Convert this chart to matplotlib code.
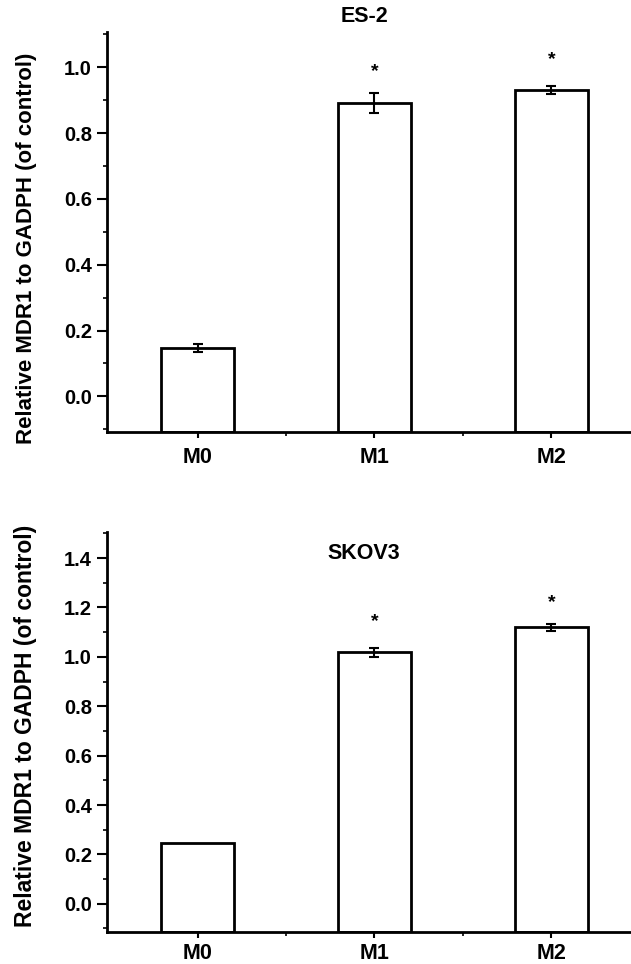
import matplotlib.pyplot as plt
from matplotlib.ticker import MultipleLocator, FixedLocator

plt.rcParams['font.family'] = ['Liberation Sans', 'DejaVu Sans']
plt.rcParams['font.weight'] = 'bold'

groups = ['M0', 'M1', 'M2']
es2_values = [0.147, 0.892, 0.930]
es2_errors = [0.012, 0.030, 0.012]
es2_stars = [None, 0.988, 1.023]
skov3_values = [0.246, 1.018, 1.119]
skov3_errors = [0.0, 0.018, 0.014]
skov3_stars = [None, 1.143, 1.218]
ylabel = 'Relative MDR1 to GADPH (of control)'


def panel(ax, values, errors, stars, ylim, label_y, label_size, xpad):
    x = list(range(len(groups)))
    base = ylim[0]
    ax.bar(x, [v - base for v in values], bottom=base, width=0.41, color='white',
           edgecolor='black', linewidth=2, zorder=2)
    errx = [i for i, e in zip(x, errors) if e > 0]
    erry = [v for v, e in zip(values, errors) if e > 0]
    erre = [e for e in errors if e > 0]
    ax.errorbar(errx, erry, yerr=erre, fmt='none', ecolor='black', elinewidth=1.5,
                capsize=3.5, capthick=1.5, zorder=3)
    for i, s in zip(x, stars):
        if s is not None:
            ax.text(i, s, '*', ha='center', va='center', fontsize=14)
    ax.set_xlim(-0.51, 2.45)
    ax.set_ylim(*ylim)
    ax.set_xticks(x)
    ax.set_xticklabels(groups, fontsize=15.5, fontweight='bold')
    ax.xaxis.set_minor_locator(FixedLocator([0.5, 1.5]))
    ax.yaxis.set_major_locator(MultipleLocator(0.2))
    ax.yaxis.set_minor_locator(MultipleLocator(0.1))
    ax.yaxis.set_major_formatter(plt.FormatStrFormatter('%.1f'))
    for lab in ax.get_yticklabels():
        lab.set_fontsize(14.5)
        lab.set_fontweight('bold')
    ax.tick_params(axis='y', which='major', direction='out', length=7, width=1.5, pad=4)
    ax.tick_params(axis='y', which='minor', direction='out', length=3, width=1.2)
    ax.tick_params(axis='x', which='major', direction='out', length=4, width=1.5, pad=xpad)
    ax.tick_params(axis='x', which='minor', direction='out', length=3, width=1.2)
    ax.spines['top'].set_visible(False)
    ax.spines['right'].set_visible(False)
    ax.spines['left'].set_linewidth(2)
    ax.spines['bottom'].set_linewidth(2)
    ax.set_ylabel(ylabel, fontsize=label_size, fontweight='bold')
    ax.yaxis.set_label_coords(-0.134, label_y)


fig = plt.figure(figsize=(6.31, 9.64), dpi=100)
ax1 = fig.add_axes([0.170, 0.552, 0.830, 0.415])
ax2 = fig.add_axes([0.170, 0.033, 0.830, 0.415])

panel(ax1, es2_values, es2_errors, es2_stars, (-0.108, 1.108), 0.46, 16, 7)
panel(ax2, skov3_values, skov3_errors, skov3_stars, (-0.115, 1.505), 0.515, 16.5, 4)

fig.text(364 / 631, 1 - 16 / 964, 'ES-2', ha='center', va='center', fontsize=15.5,
         fontweight='bold')
ax2.text(0.94, 1.417, 'SKOV3', ha='center', va='center', fontsize=15.5, fontweight='bold')

fig.savefig('out.png', dpi=100)
plt.close()
